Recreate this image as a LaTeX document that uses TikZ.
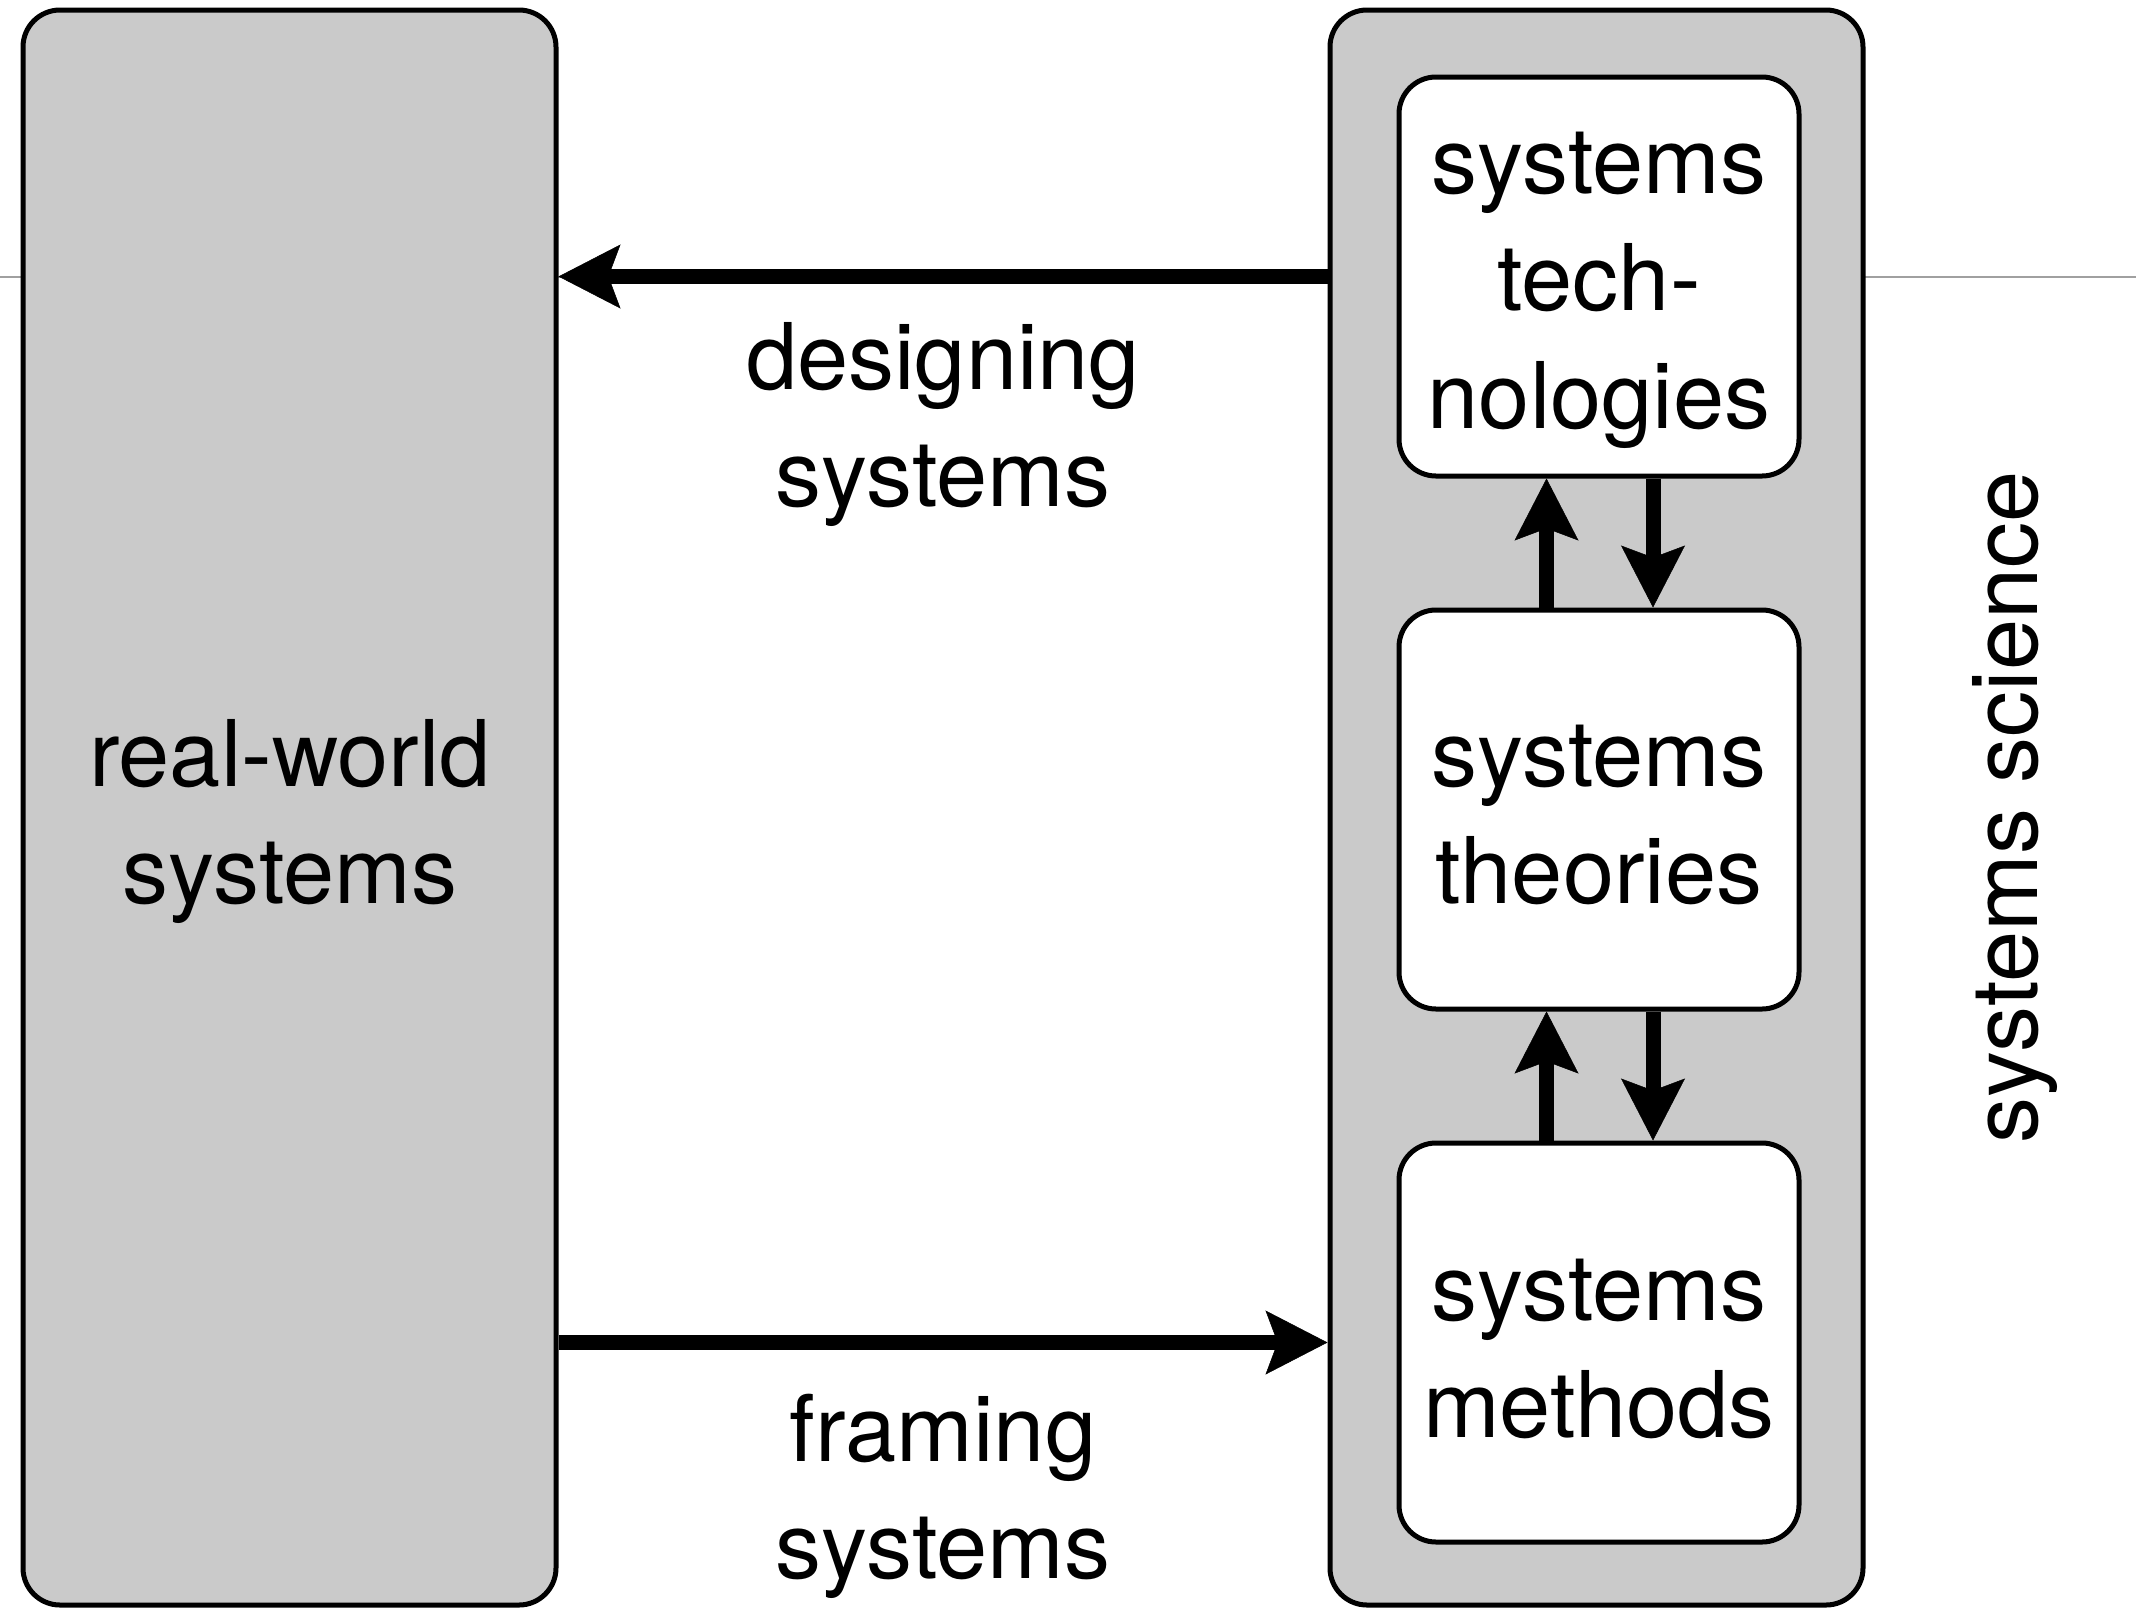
\documentclass[tikz,border=0pt]{standalone}
\usepackage{fontspec}
\setmainfont{TeX Gyre Heros}
\usetikzlibrary{arrows.meta}
\definecolor{boxgray}{RGB}{202,202,202}
\definecolor{guidegray}{RGB}{160,160,160}
\begin{document}
\begin{tikzpicture}[x=1pt,y=-1pt,
  outerbox/.style={draw=black, line width=5pt, fill=boxgray, rounded corners=37pt, inner sep=0pt, minimum width=533pt, minimum height=1595pt},
  innerbox/.style={draw=black, line width=5pt, fill=white, rounded corners=37pt, inner sep=0pt, minimum width=400pt, minimum height=399pt},
  lbl/.style={font=\fontsize{92}{117.5}\selectfont, align=center, inner sep=0pt, anchor=north},
  bigarrow/.style={line width=15pt, -{Stealth[length=62pt, width=64pt, inset=12pt, line width=0.5pt]}}
]
\useasboundingbox (0,0) rectangle (2153,1610);
% thin guide line behind everything
\coordinate (g0) at (0,276.5);
\coordinate (g1) at (2136,276.5);
\draw[guidegray, line width=2pt] (g0) -- (g1);

% boxes
\node[outerbox] (rw) at (289.5,807.5) {};
\node[outerbox] (ss) at (1596.5,807.5) {};
\node[innerbox] (tt) at (1599,276.5) {};
\node[innerbox] (th) at (1599,809.5) {};
\node[innerbox] (me) at (1599,1342.5) {};

% horizontal arrows
\draw[bigarrow] (ss.west |- tt.center) -- (rw.east |- tt.center);
\draw[bigarrow] (rw.east |- me.center) -- (ss.west |- me.center);

% vertical arrows
\coordinate (ux) at (1546.5,0);
\coordinate (dx) at (1653,0);
\draw[bigarrow] (th.north -| ux) -- (tt.south -| ux);
\draw[bigarrow] (tt.south -| dx) -- (th.north -| dx);
\draw[bigarrow] (me.north -| ux) -- (th.south -| ux);
\draw[bigarrow] (th.south -| dx) -- (me.north -| dx);

% texts
\node[lbl] (ttl) at (1599,113) {\rule{0pt}{80pt}systems\\tech-\\nologies};
\node[lbl] (thl) at (1599,706) {\rule{0pt}{80pt}systems\\theories};
\node[lbl] (mel) at (1599,1240) {\rule{0pt}{80pt}systems\\methods};
\node[lbl] (rwl) at (290,706) {\rule{0pt}{80pt}real-world\\systems};
\node[lbl] (dsl) at (943,309) {\rule{0pt}{80pt}designing\\systems};
\node[lbl] (frl) at (943,1381) {\rule{0pt}{80pt}framing\\systems};
\node[font=\fontsize{92}{117.5}\selectfont, inner sep=0pt, rotate=90, anchor=base] (sci) at (2037,807.5) {systems science};
\end{tikzpicture}
\end{document}
